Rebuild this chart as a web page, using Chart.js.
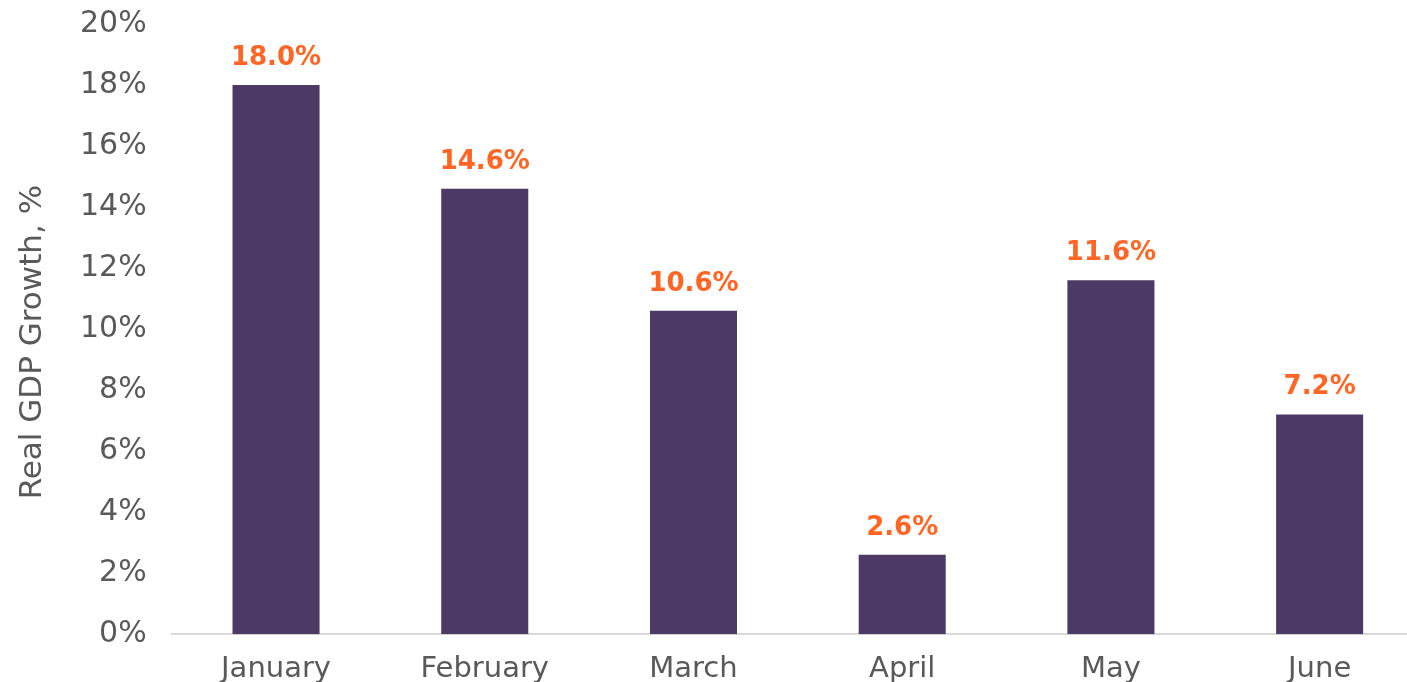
<!DOCTYPE html>
<html>
<head>
<meta charset="utf-8">
<script src="https://cdn.jsdelivr.net/npm/chart.js@4"></script>
<style>
  html, body { margin: 0; padding: 0; background: #fff; overflow: hidden; }
  #wrap { width: 1424px; height: 697px; margin-top: -11px; }
</style>
</head>
<body>
<div id="wrap"><canvas id="chart" width="1424" height="697"></canvas></div>
<script>
// datos del gráfico
const meses = ["January", "February", "March", "April", "May", "June"];
const crecimiento = [18.0, 14.6, 10.6, 2.6, 11.6, 7.2];
const ejeY = { min: 0, max: 20, paso: 2 };
const tituloY = "Real GDP Growth, %";

const GRIS = "#595959";
const MORADO = "#4B3A66";
const NARANJA = "#FF6524";

Chart.defaults.font.family = "'DejaVu Sans', sans-serif";
Chart.defaults.color = GRIS;

// etiquetas encima de las barras
const etiquetasBarras = {
    id: "etiquetasBarras",
    afterDatasetsDraw(chart) {
        const ctx = chart.ctx;
        const meta = chart.getDatasetMeta(0);
        ctx.save();
        ctx.font = "bold 26px 'DejaVu Sans', sans-serif";
        ctx.fillStyle = NARANJA;
        ctx.textAlign = "center";
        ctx.textBaseline = "middle";
        meta.data.forEach((bar, i) => {
            ctx.fillText(crecimiento[i].toFixed(1) + "%", bar.x, bar.y - 27);
        });
        ctx.restore();
    }
};

// título del eje Y (un poco por debajo del centro, como en el original)
const tituloEjeY = {
    id: "tituloEjeY",
    afterDraw(chart) {
        const ctx = chart.ctx;
        const area = chart.chartArea;
        ctx.save();
        ctx.font = "31px 'DejaVu Sans', sans-serif";
        ctx.fillStyle = GRIS;
        ctx.textAlign = "center";
        ctx.textBaseline = "middle";
        ctx.translate(33, (area.top + area.bottom) / 2 + 13);
        ctx.rotate(-Math.PI / 2);
        ctx.fillText(tituloY, 0, 0);
        ctx.restore();
    }
};

new Chart(document.getElementById("chart").getContext("2d"), {
    type: "bar",
    data: {
        labels: meses,
        datasets: [{
            data: crecimiento,
            backgroundColor: MORADO,
            categoryPercentage: 1,
            barPercentage: 0.417
        }]
    },
    options: {
        responsive: false,
        animation: false,
        layout: { padding: { left: 63, top: 0, bottom: -11, right: 0 } },
        plugins: {
            legend: { display: false },
            tooltip: { enabled: false }
        },
        scales: {
            x: {
                grid: { display: false },
                border: { display: true, color: "#D9D9D9", width: 2 },
                ticks: { color: GRIS, font: { size: 29 }, padding: 10 }
            },
            y: {
                min: ejeY.min,
                max: ejeY.max,
                grid: { display: false },
                border: { display: false },
                ticks: {
                    stepSize: ejeY.paso,
                    color: GRIS,
                    font: { size: 30 },
                    padding: 17,
                    callback: v => v + "%"
                }
            }
        }
    },
    plugins: [etiquetasBarras, tituloEjeY]
});
</script>
</body>
</html>
